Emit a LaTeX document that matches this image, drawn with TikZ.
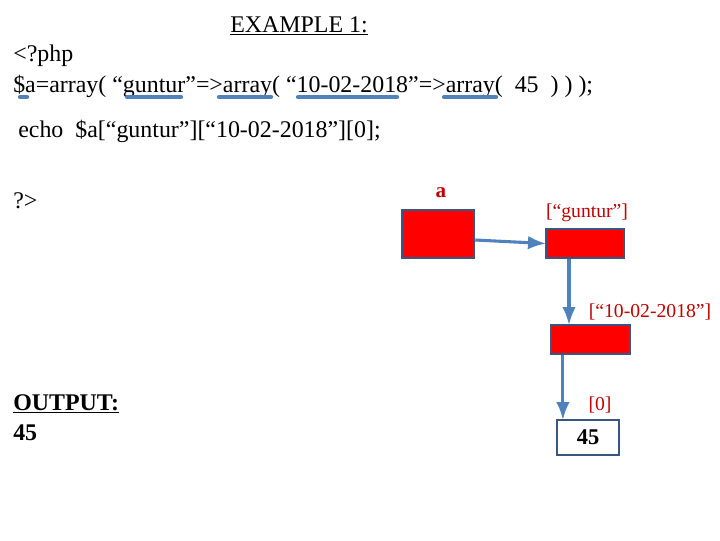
\documentclass[tikz,border=0pt]{standalone}
\usepackage{fontspec}
\setmainfont{Liberation Serif}
\usetikzlibrary{arrows.meta,positioning}
\definecolor{cellred}{RGB}{255,0,0}
\definecolor{celledge}{RGB}{56,87,128}
\definecolor{linkblue}{RGB}{79,129,189}
\definecolor{keyred}{RGB}{192,0,0}

\begin{document}
\begin{tikzpicture}[>=Latex,x=0.025cm,y=-0.025cm,
  cell/.style={draw=celledge,line width=1.8pt,fill=cellred,inner sep=0pt},
  link/.style={->,linkblue,line width=2.2pt,shorten >=-1pt},
  code/.style={anchor=base west,inner sep=0pt,font=\fontsize{17}{20}\selectfont},
  key/.style={keyred,inner sep=0pt,font=\fontsize{14}{16}\selectfont},
  hilite/.style={linkblue,line width=3pt,line cap=round}]
  \useasboundingbox (0,0) rectangle (720,540);
  % the php source
  \node[code] (title) at (230,32) {\underline{EXAMPLE 1:}};
  \node[code] (open) at (13,61) {<?php};
  \node[code] (decl) at (13,92) {\$a=array( “guntur”=>array( “10-02-2018”=>array(\ \ 45\ \ ) ) );};
  \node[code] (echo) at (18,137) {echo\ \ \$a[“guntur”][“10-02-2018”][0];};
  \node[code] (close) at (13,208) {?>};
  \node[code,font=\fontsize{17}{20}\selectfont\bfseries] (outhead) at (13,410) {\underline{OUTPUT:}};
  \node[code,font=\fontsize{17}{20}\selectfont\bfseries] (outval) at (13,440) {45};
  % blue marks under the keys
  \draw[hilite] (20,97) -- (27,97);
  \draw[hilite] (127,97) -- (181,97);
  \draw[hilite] (219,97) -- (271,97);
  \draw[hilite] (298,97) -- (397,97);
  \draw[hilite] (444,97) -- (496,97);
  % the nested arrays
  \node[cell,minimum width=1.8cm,minimum height=1.2cm] (a) at (438,234) {};
  \node[cell,minimum width=1.95cm,minimum height=0.725cm] (guntur) at (585,243.5) {};
  \node[cell,minimum width=1.975cm,minimum height=0.725cm] (date) at (590.5,339.5) {};
  \node[cell,fill=white,minimum width=1.55cm,minimum height=0.875cm,
    font=\fontsize{16}{18}\selectfont\bfseries] (val) at (588,437.5) {45};
  \node[key,font=\fontsize{15}{18}\selectfont\bfseries] (alab) at (441,193) {a};
  \node[key] (glab) at (587,213) {[“guntur”]};
  \node[key] (dlab) at (650,312) {[“10-02-2018”]};
  \node[key] (zlab) at (600,405) {[0]};
  \draw[link] ([yshift=-0.15cm]a.east) -- (guntur.west);
  \draw[link] ([xshift=-0.4cm]guntur.south) -- ([xshift=-0.4cm]guntur.south |- date.north);
  \draw[link] ([xshift=-0.69cm]date.south) -- ([xshift=-0.69cm]date.south |- val.north);
\end{tikzpicture}
\end{document}
